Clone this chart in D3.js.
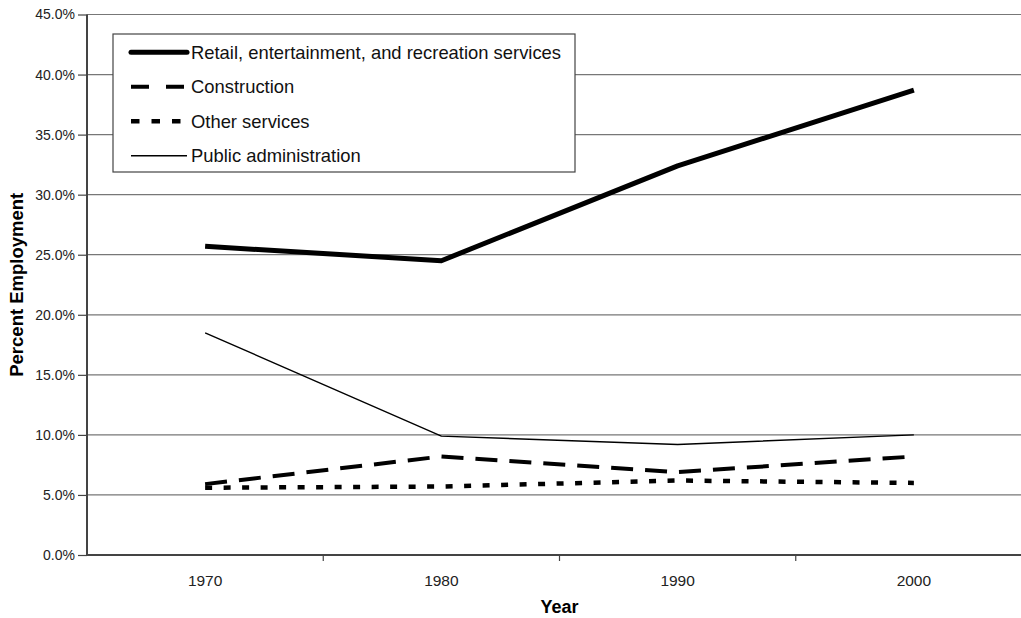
<!DOCTYPE html>
<html>
<head>
<meta charset="utf-8">
<script src="https://cdn.jsdelivr.net/npm/d3@7"></script>
<style>
  html, body { margin: 0; padding: 0; background: #fff; }
  svg { display: block; font-family: "Liberation Sans", Arial, sans-serif; }
</style>
</head>
<body>
<svg id="chart" width="1021" height="618"></svg>
<script>
const years = ["1970", "1980", "1990", "2000"];
const retail = [25.7, 24.5, 32.4, 38.7];
const construction = [5.9, 8.2, 6.9, 8.2];
const otherServices = [5.6, 5.7, 6.2, 6.0];
const publicAdmin = [18.5, 9.9, 9.2, 10.0];
const yTicks = [0, 5, 10, 15, 20, 25, 30, 35, 40, 45];
const seriesNames = ["Retail, entertainment, and recreation services", "Construction", "Other services", "Public administration"];

const series = [
  { name: seriesNames[0], values: retail, width: 5, dash: null, legendDash: null },
  { name: seriesNames[1], values: construction, width: 4, dash: "22,12", legendDash: "18,17" },
  { name: seriesNames[2], values: otherServices, width: 4.5, dash: "7,11.5", legendDash: "8.5,12" },
  { name: seriesNames[3], values: publicAdmin, width: 1.4, dash: null, legendDash: null }
];

const svg = d3.select("#chart");
const pLeft = 87, pRight = 1032, pTop = 14.5, pBottom = 555;

const x = d3.scaleBand().domain(years).range([pLeft, pRight]).padding(0);
const y = d3.scaleLinear().domain([0, 45]).range([pBottom, pTop]);

// gridlines
svg.append("g").selectAll("line").data(yTicks.filter(d => d > 0)).join("line")
  .attr("x1", pLeft).attr("x2", 1021)
  .attr("y1", d => y(d)).attr("y2", d => y(d))
  .attr("stroke", "#777").attr("stroke-width", 1.2);

// y axis
const yAxis = svg.append("g").attr("transform", `translate(${pLeft},0)`)
  .call(d3.axisLeft(y).tickValues(yTicks).tickSize(9).tickPadding(3)
    .tickFormat(d => d.toFixed(1) + "%"));
yAxis.select(".domain").attr("stroke", "#444").attr("stroke-width", 2).attr("d", `M0,${pTop}V${pBottom}`);
yAxis.selectAll(".tick line").attr("stroke", "#444").attr("stroke-width", 1.2);
yAxis.selectAll(".tick text").attr("font-size", "14px").attr("fill", "#222")
  .attr("font-family", "'Liberation Sans', Arial, sans-serif");

// x axis
const xAxis = svg.append("g").attr("transform", `translate(0,${pBottom})`);
xAxis.append("line").attr("x1", pLeft).attr("x2", 1021).attr("y1", 0).attr("y2", 0)
  .attr("stroke", "#444").attr("stroke-width", 2);
xAxis.selectAll("line.tk").data(years.slice(1)).join("line").attr("class", "tk")
  .attr("x1", d => x(d)).attr("x2", d => x(d)).attr("y1", 0).attr("y2", 6)
  .attr("stroke", "#444").attr("stroke-width", 1.2);
xAxis.selectAll("text").data(years).join("text")
  .attr("x", d => x(d) + x.bandwidth() / 2).attr("y", 30.5)
  .attr("text-anchor", "middle").attr("font-size", "15.5px").attr("fill", "#222")
  .text(d => d);

// axis titles
svg.append("text").attr("x", (pLeft + pRight) / 2).attr("y", 613)
  .attr("text-anchor", "middle").attr("font-size", "18px").attr("font-weight", "bold")
  .text("Year");
svg.append("text").attr("transform", `translate(23,${(pTop + pBottom) / 2}) rotate(-90)`)
  .attr("text-anchor", "middle").attr("font-size", "18.5px").attr("font-weight", "bold")
  .text("Percent Employment");

// lines
const line = d3.line().x((d, i) => x(years[i]) + x.bandwidth() / 2).y(d => y(d));
svg.append("g").selectAll("path").data(series).join("path")
  .attr("d", d => line(d.values))
  .attr("fill", "none").attr("stroke", "#000")
  .attr("stroke-width", d => d.width)
  .attr("stroke-dasharray", d => d.dash)
  .attr("stroke-linejoin", "round");

// legend
const lg = svg.append("g");
lg.append("rect").attr("x", 113).attr("y", 34).attr("width", 462).attr("height", 138)
  .attr("fill", "#fff").attr("stroke", "#444").attr("stroke-width", 1.2);
const rows = lg.selectAll("g.row").data(series).join("g").attr("class", "row")
  .attr("transform", (d, i) => `translate(0,${52.3 + i * 34.5})`);
rows.append("line").attr("x1", 131).attr("x2", 187).attr("y1", 0).attr("y2", 0)
  .attr("stroke", "#000").attr("stroke-width", d => d.width)
  .attr("stroke-dasharray", d => d.legendDash)
  .attr("stroke-linecap", (d, i) => i === 0 ? "round" : "butt");
rows.append("text").attr("x", 191).attr("y", 6.5).attr("font-size", "18.4px").attr("fill", "#111")
  .text(d => d.name);
</script>
</body>
</html>
